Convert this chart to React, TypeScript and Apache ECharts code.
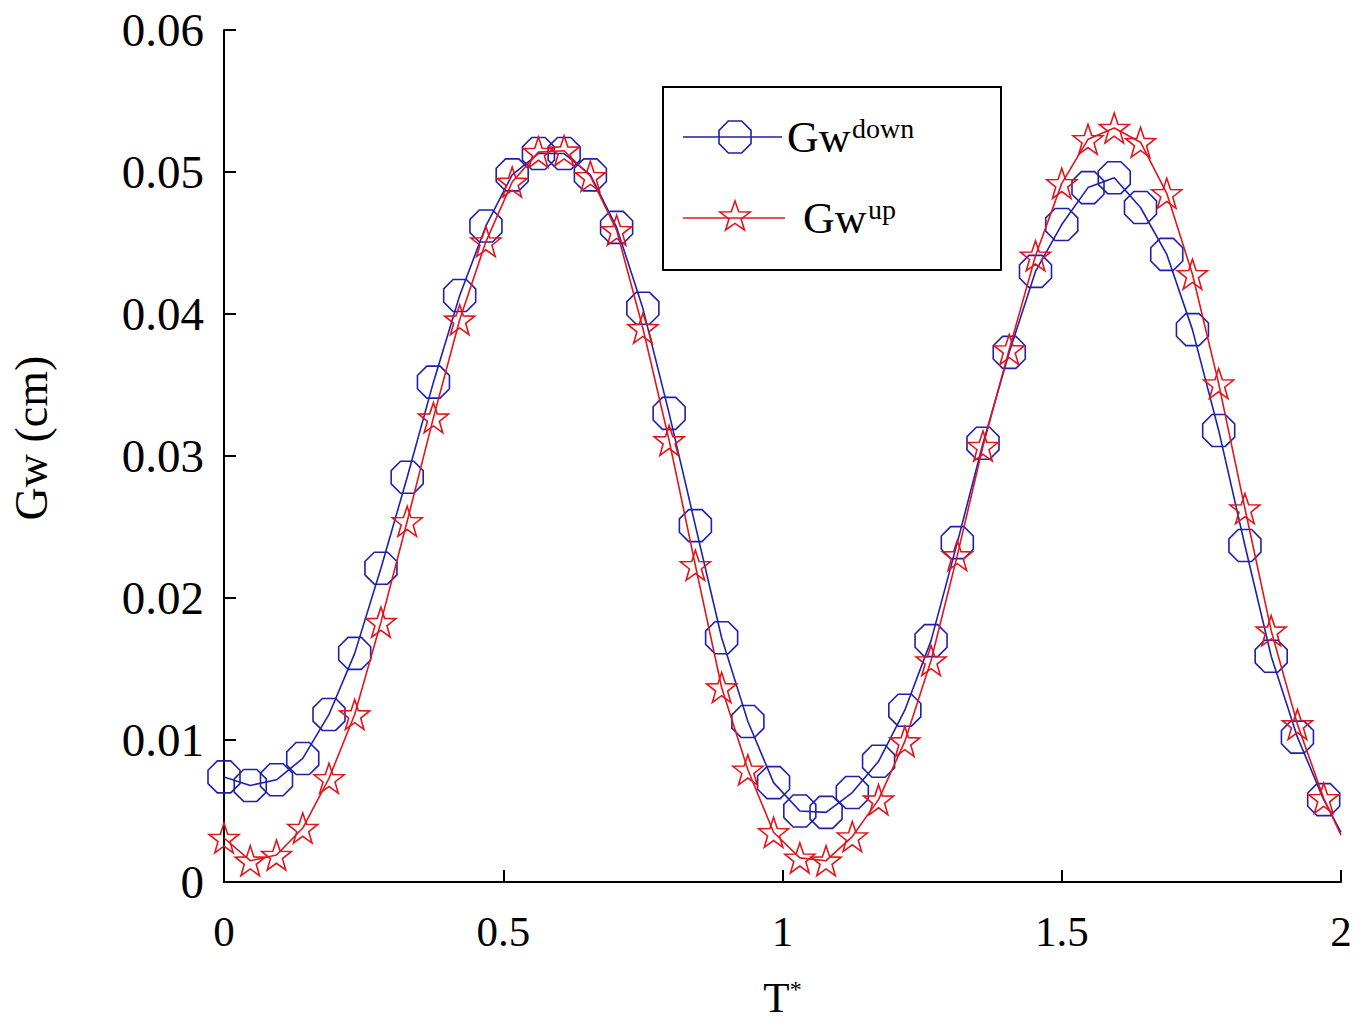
import React, { useEffect, useRef } from "react";
import * as echarts from "echarts";

// T* sample positions
const T = [0, 0.047, 0.094, 0.141, 0.188, 0.234, 0.281, 0.328, 0.375, 0.422, 0.469, 0.516, 0.563, 0.609, 0.656, 0.703, 0.75, 0.797, 0.844, 0.891, 0.938, 0.984, 1.031, 1.078, 1.125, 1.172, 1.219, 1.266, 1.313, 1.359, 1.406, 1.453, 1.5, 1.547, 1.594, 1.641, 1.688, 1.734, 1.781, 1.828, 1.875, 1.922, 1.969, 2.0];

const gwDown = [0.0074, 0.0068, 0.0072, 0.0087, 0.0118, 0.0161, 0.0221, 0.0285, 0.0352, 0.0413, 0.0462, 0.0498, 0.0513, 0.0513, 0.0498, 0.0461, 0.0404, 0.033, 0.0251, 0.0172, 0.0113, 0.007, 0.005, 0.0049, 0.0063, 0.0085, 0.0121, 0.017, 0.0239, 0.0309, 0.0373, 0.043, 0.0463, 0.0489, 0.0496, 0.0475, 0.0442, 0.0389, 0.0318, 0.0237, 0.0159, 0.0102, 0.0058, 0.0035];

const gwUp = [0.0031, 0.0015, 0.0019, 0.0038, 0.0073, 0.0118, 0.0183, 0.0254, 0.0327, 0.0396, 0.0451, 0.0493, 0.0514, 0.0515, 0.0497, 0.0459, 0.039, 0.0311, 0.0223, 0.0137, 0.0079, 0.0035, 0.0017, 0.0015, 0.0032, 0.0058, 0.0099, 0.0156, 0.023, 0.0307, 0.0375, 0.0441, 0.0492, 0.0523, 0.0531, 0.0521, 0.0485, 0.0428, 0.0351, 0.0263, 0.0177, 0.0111, 0.0059, 0.0033];

const xTicks = ["0", "0.5", "1", "1.5", "2"];
const yTicks = ["0", "0.01", "0.02", "0.03", "0.04", "0.05", "0.06"];

const BLUE = "#1f1fb0";
const RED = "#e3141c";
const FONT = "'Liberation Serif', 'DejaVu Serif', serif";

const OCTAGON = "path://M-4.14,-10 L4.14,-10 L10,-4.14 L10,4.14 L4.14,10 L-4.14,10 L-10,4.14 L-10,-4.14 Z";
const STAR = "path://M0,-10 L2.35,-3.24 L9.51,-3.09 L3.8,1.24 L5.88,8.09 L0,4 L-5.88,8.09 L-3.8,1.24 L-9.51,-3.09 L-2.35,-3.24 Z";

function octPoints(cx: number, cy: number, r: number) {
  const k = 0.414 * r;
  return [[cx - k, cy - r], [cx + k, cy - r], [cx + r, cy - k], [cx + r, cy + k], [cx + k, cy + r], [cx - k, cy + r], [cx - r, cy + k], [cx - r, cy - k]];
}
function starPoints(cx: number, cy: number, r: number) {
  const pts: number[][] = [];
  for (let i = 0; i < 10; i++) {
    const rr = i % 2 === 0 ? r : r * 0.4;
    const a = -Math.PI / 2 + (i * Math.PI) / 5;
    pts.push([cx + rr * Math.cos(a), cy + rr * Math.sin(a)]);
  }
  return pts;
}

export default function App() {
  const ref = useRef<HTMLDivElement>(null);
  useEffect(() => {
    const chart = echarts.init(ref.current!, null, { renderer: "svg" });
    const mk = (vals: number[]) =>
      T.map((t, i) => (i === T.length - 1 ? { value: [t, vals[i]], symbol: "none" } : { value: [t, vals[i]] }));
    chart.setOption({
      animation: false,
      backgroundColor: "#ffffff",
      grid: { left: 224, right: 28, top: 30, bottom: 148, containLabel: false, outerBoundsMode: "none" },
      xAxis: {
        type: "value",
        min: 0,
        max: 2,
        interval: 0.5,
        splitLine: { show: false },
        axisLine: { lineStyle: { color: "#000", width: 2 } },
        axisTick: { inside: true, length: 12, lineStyle: { color: "#000", width: 2 } },
        axisLabel: {
          margin: 28,
          color: "#000",
          fontFamily: FONT,
          fontSize: 43,
          formatter: (v: number) => xTicks[Math.round(v / 0.5)] ?? "",
        },
        name: "{t|T}{s|*}",
        nameLocation: "middle",
        nameGap: 94,
        nameTextStyle: {
          rich: {
            t: { fontFamily: FONT, fontSize: 43, color: "#000" },
            s: { fontFamily: FONT, fontSize: 24, color: "#000", padding: [0, 0, 18, 0] },
          },
        },
      },
      yAxis: {
        type: "value",
        min: 0,
        max: 0.06,
        interval: 0.01,
        splitLine: { show: false },
        axisLine: { lineStyle: { color: "#000", width: 2 } },
        axisTick: { inside: true, length: 12, lineStyle: { color: "#000", width: 2 } },
        axisLabel: {
          margin: 20,
          color: "#000",
          fontFamily: FONT,
          fontSize: 47,
          formatter: (v: number) => yTicks[Math.round(v / 0.01)] ?? "",
        },
      },
      series: [
        {
          name: "Gw down",
          type: "line",
          data: mk(gwDown),
          symbol: OCTAGON,
          symbolSize: 32,
          lineStyle: { color: BLUE, width: 1.6 },
          itemStyle: { color: "transparent", borderColor: BLUE, borderWidth: 1.6 },
          z: 2,
        },
        {
          name: "Gw up",
          type: "line",
          data: mk(gwUp),
          symbol: STAR,
          symbolSize: 30,
          lineStyle: { color: RED, width: 1.6 },
          itemStyle: { color: "transparent", borderColor: RED, borderWidth: 1.6 },
          z: 3,
        },
      ],
      graphic: [
        {
          type: "text",
          x: 31,
          y: 438,
          rotation: Math.PI / 2,
          style: { text: "Gw (cm)", font: `46px ${FONT}`, fill: "#000", align: "center", verticalAlign: "middle" },
        },
        {
          type: "rect",
          shape: { x: 663, y: 87, width: 338, height: 183 },
          style: { fill: "#fff", stroke: "#000", lineWidth: 2 },
          z: 10,
        },
        { type: "line", shape: { x1: 683, y1: 137, x2: 782, y2: 137 }, style: { stroke: BLUE, lineWidth: 1.6 }, z: 11 },
        { type: "polygon", shape: { points: octPoints(735, 137, 16) }, style: { fill: "none", stroke: BLUE, lineWidth: 1.6 }, z: 12 },
        { type: "text", x: 787, y: 137, style: { text: "Gw", font: `44px ${FONT}`, fill: "#000", verticalAlign: "middle" }, z: 12 },
        { type: "text", x: 852, y: 128, style: { text: "down", font: `28px ${FONT}`, fill: "#000", verticalAlign: "middle" }, z: 12 },
        { type: "line", shape: { x1: 683, y1: 218, x2: 785, y2: 218 }, style: { stroke: RED, lineWidth: 1.6 }, z: 11 },
        { type: "polygon", shape: { points: starPoints(735, 217, 16) }, style: { fill: "none", stroke: RED, lineWidth: 1.6 }, z: 12 },
        { type: "text", x: 803, y: 218, style: { text: "Gw", font: `44px ${FONT}`, fill: "#000", verticalAlign: "middle" }, z: 12 },
        { type: "text", x: 868, y: 209, style: { text: "up", font: `28px ${FONT}`, fill: "#000", verticalAlign: "middle" }, z: 12 },
      ],
    });
    return () => chart.dispose();
  }, []);
  return (
    <div
      ref={ref}
      style={{ position: "absolute", left: 0, top: 0, width: 1369, height: 1030, background: "#fff" }}
    />
  );
}
